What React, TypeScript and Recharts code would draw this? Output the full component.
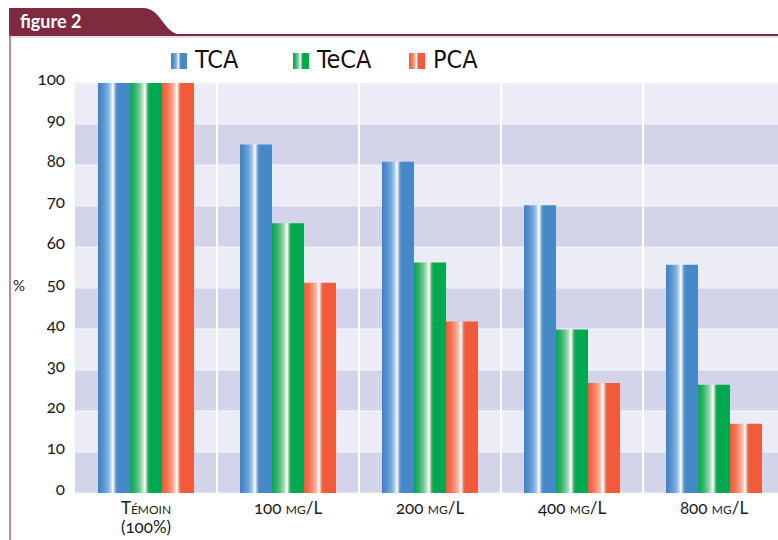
import React from 'react';
import { BarChart, Bar, XAxis, YAxis, CartesianGrid, ReferenceLine } from 'recharts';

const categories = ['Témoin\n(100%)', '100 mg/L', '200 mg/L', '400 mg/L', '800 mg/L'];
const tcaValues = [100, 85, 80.8, 70.2, 55.7];
const tecaValues = [100, 65.8, 56.2, 39.9, 26.4];
const pcaValues = [100, 51.3, 41.8, 26.8, 16.9];
const seriesNames = ['TCA', 'TeCA', 'PCA'];
const yTicks = [0, 10, 20, 30, 40, 50, 60, 70, 80, 90, 100];
const separators = categories.slice(1);

const data = categories.map((c, i) => ({
  name: c,
  TCA: tcaValues[i],
  TeCA: tecaValues[i],
  PCA: pcaValues[i],
}));

const gradients: Record<string, { id: string; base: string; stops: [number, string][] }> = {
  TCA: {
    id: 'gTCA',
    base: '#4589c8',
    stops: [
      [0, '#3f82c4'], [0.15, '#5592cd'], [0.3, '#7aacdc'], [0.4, '#b3d0ed'], [0.46, '#ffffff'],
      [0.5, '#cde0f3'], [0.56, '#5e99d2'], [0.62, '#4589c8'], [1, '#4589c8'],
    ],
  },
  TeCA: {
    id: 'gTeCA',
    base: '#00a94f',
    stops: [
      [0, '#05a752'], [0.15, '#2fb064'], [0.3, '#78c994'], [0.4, '#b6e1c4'], [0.46, '#ffffff'],
      [0.5, '#c6e9d2'], [0.56, '#2cb060'], [0.62, '#00a94f'], [1, '#00a94f'],
    ],
  },
  PCA: {
    id: 'gPCA',
    base: '#f15a3b',
    stops: [
      [0, '#f05a3a'], [0.15, '#f2714f'], [0.3, '#f59a83'], [0.4, '#f9c4b5'], [0.46, '#ffffff'],
      [0.5, '#fbd0c4'], [0.56, '#f26b4d'], [0.62, '#f15a3b'], [1, '#f15a3b'],
    ],
  },
};

const GradDefs = () => (
  <defs>
    {seriesNames.map((s) => (
      <linearGradient key={s} id={gradients[s].id} x1="0" y1="0" x2="1" y2="0">
        {gradients[s].stops.map(([o, c], i) => (
          <stop key={i} offset={o} stopColor={c} />
        ))}
      </linearGradient>
    ))}
  </defs>
);

const tickFont = 'Lato, "Open Sans", "DejaVu Sans", sans-serif';

const XTick = (props: any) => {
  const { x, y, payload } = props;
  const lines = String(payload.value).split('\n');
  return (
    <text
      x={x}
      y={y}
      textAnchor="middle"
      fontSize={17}
      fill="#1a1a1a"
      fontFamily={tickFont}
      style={{ fontVariant: 'small-caps', fontFeatureSettings: '"onum"' }}
    >
      {lines.map((l, i) => (
        <tspan key={i} x={x} dy={i === 0 ? 21 : 19}>
          {l}
        </tspan>
      ))}
    </text>
  );
};

const YTick = (props: any) => {
  const { x, y, payload } = props;
  return (
    <text
      x={x}
      y={y}
      dy={2}
      textAnchor="end"
      fontSize={17}
      fill="#1a1a1a"
      fontFamily={tickFont}
      style={{ fontFeatureSettings: '"onum"' }}
    >
      {payload.value}
    </text>
  );
};

const legendX = [171, 293, 409];

export default function App() {
  return (
    <div style={{ position: 'absolute', left: 0, top: 0, width: 778, height: 540, overflow: 'hidden', background: '#fff' }}>
      <div style={{ position: 'absolute', left: 0, top: 0 }}>
        <BarChart
          width={785}
          height={540}
          data={data}
          margin={{ top: 83, right: 0, left: 0, bottom: 0 }}
          barSize={32}
          barGap={0}
        >
          <GradDefs />
          <CartesianGrid
            vertical={false}
            horizontal={true}
            stroke="#f6f6fb"
            strokeWidth={1}
            horizontalFill={['#ececf6', '#d3d3e9']}
            fillOpacity={1}
          />
          <XAxis
            dataKey="name"
            axisLine={false}
            tickLine={false}
            tickSize={0}
            tickMargin={0}
            height={47}
            interval={0}
            tick={<XTick />}
          />
          <YAxis
            domain={[0, 100]}
            ticks={yTicks}
            width={75}
            axisLine={false}
            tickLine={false}
            tickSize={0}
            tickMargin={10}
            interval={0}
            tick={<YTick />}
          />
          {separators.map((s) => (
            <ReferenceLine key={s} x={s} position="start" stroke="#ffffff" strokeWidth={2} />
          ))}
          {seriesNames.map((s) => (
            <Bar key={s} dataKey={s} fill={`url(#${gradients[s].id})`} isAnimationActive={false} />
          ))}
        </BarChart>
      </div>
      <svg
        width={778}
        height={540}
        style={{ position: 'absolute', left: 0, top: 0, pointerEvents: 'none' }}
      >
        <path d="M9,35 L9,8 L143,8 C162,8 163,35 183,35 Z" fill="#7f2a3e" />
        <line x1={9} y1={35} x2={778} y2={35} stroke="#7f2a3e" strokeWidth={2} />
        <line x1={9} y1={37} x2={778} y2={37} stroke="#dcb8c2" strokeWidth={1} />
        <line x1={10} y1={35} x2={10} y2={540} stroke="#a8627a" strokeWidth={1.5} />
        <text x={20} y={28} fill="#ffffff" fontSize={18} fontWeight="bold" fontFamily='Lato, "Open Sans", sans-serif'>
          figure 2
        </text>
        <text x={13} y={291} fontSize={15} fill="#1a1a1a" fontFamily={tickFont}>
          %
        </text>
        {seriesNames.map((s, i) => (
          <g key={s}>
            <rect x={legendX[i]} y={53} width={16} height={16} fill={`url(#${gradients[s].id})`} />
            <text
              x={legendX[i] + 24}
              y={68}
              fontSize={25}
              fill="#111"
              fontFamily='"Liberation Sans Narrow", "DejaVu Sans Condensed", "Open Sans", sans-serif'
            >
              {s}
            </text>
          </g>
        ))}
      </svg>
    </div>
  );
}
